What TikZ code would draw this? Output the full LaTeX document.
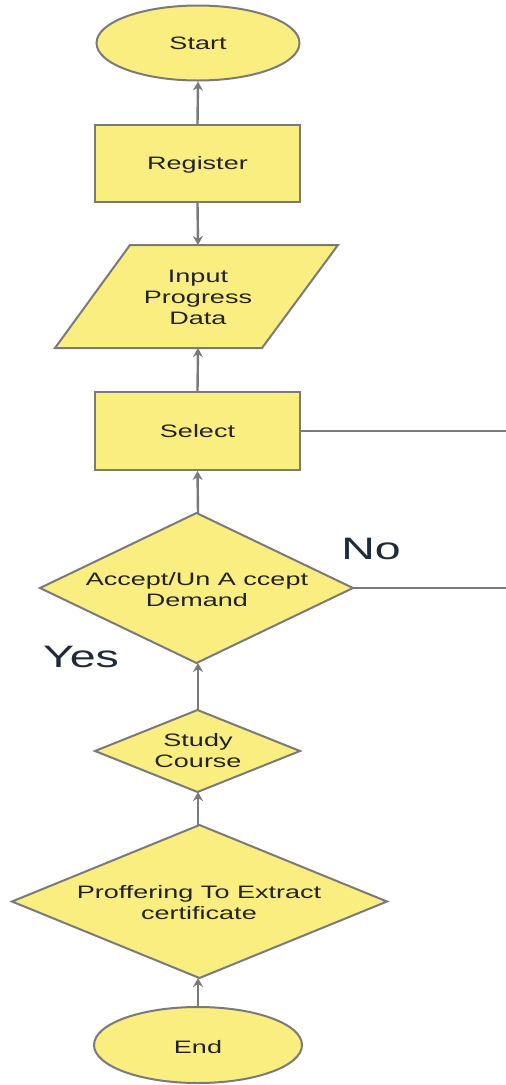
\documentclass[tikz,border=0pt]{standalone}
\usepackage{fontspec}
\setmainfont{Liberation Sans}[FakeStretch=1.5]
\usetikzlibrary{arrows.meta,shapes.geometric}
\definecolor{boxfill}{HTML}{FAEE80}
\definecolor{boxline}{HTML}{7A7A7A}
\definecolor{txt}{HTML}{222222}
\definecolor{lbl}{HTML}{1E2A3A}
\tikzset{
  shapebox/.style={draw=boxline, fill=boxfill, line width=2pt},
  txtnode/.style={text=txt, align=center, inner sep=0pt, font=\fontsize{18}{21}\selectfont},
  conn/.style={draw=boxline, line width=2.4pt, -{Stealth[length=9pt,width=10pt]}},
  plain/.style={draw=boxline, line width=2pt},
  bigl/.style={text=lbl, inner sep=0pt, font=\fontsize{31}{34}\selectfont}
}
\begin{document}
\begin{tikzpicture}[x=1pt,y=-1pt]
\useasboundingbox (0,0) rectangle (506,1085);
% Start
\node[shapebox, ellipse, minimum width=203pt, minimum height=75pt, inner sep=0pt] (start) at (198,43) {};
\node[txtnode] (starttxt) at (198,43) {Start};
% Register
\node[shapebox, rectangle, minimum width=205pt, minimum height=77pt, inner sep=0pt] (reg) at (197.5,163.5) {};
\node[txtnode] (regtxt) at (197.5,165) {Register};
% Input parallelogram
\draw[shapebox] (130,245) -- (338,245) -- (262,348) -- (55,348) -- cycle;
\coordinate (inptop) at (198,245);
\coordinate (inpbot) at (198,348);
\node[txtnode] (inp) at (198,297) {Input\\Progress\\Data};
% Select
\node[shapebox, rectangle, minimum width=205pt, minimum height=78pt, inner sep=0pt] (sel) at (197.5,431) {};
\node[txtnode] (seltxt) at (197.5,431) {Select};
\coordinate (selright) at (300,431);
\coordinate (selend) at (506,431);
% Accept diamond
\draw[shapebox] (196.5,513) -- (353,588) -- (196.5,663) -- (40,588) -- cycle;
\coordinate (acctop) at (198,513);
\coordinate (accbot) at (198,663);
\coordinate (accright) at (353,588);
\coordinate (accend) at (506,588);
\node[txtnode] (acc) at (197,590) {Accept/Un A ccept\\Demand};
% Study diamond
\draw[shapebox] (197.5,710) -- (300,751) -- (197.5,792) -- (95,751) -- cycle;
\coordinate (studytop) at (198,710);
\coordinate (studybot) at (198,792);
\node[txtnode] (study) at (198,751) {Study\\Course};
% Proffering diamond
\draw[shapebox] (199.5,825) -- (387,901.5) -- (199.5,978) -- (12,901.5) -- cycle;
\coordinate (proftop) at (198,825);
\coordinate (profbot) at (198,978);
\node[txtnode] (prof) at (199,903) {Proffering To Extract\\certificate};
% End
\node[shapebox, ellipse, minimum width=208pt, minimum height=76pt, inner sep=0pt] (endn) at (198,1045) {};
\node[txtnode] (endtxt) at (198,1047) {End};
% connectors
\draw[conn] (reg.north) -- (start.south);
\draw[conn] (reg.south) -- (inptop);
\draw[conn] (sel.north) -- (inpbot);
\draw[conn] (acctop) -- (sel.south);
\draw[conn] (studytop) -- (accbot);
\draw[conn] (proftop) -- (studybot);
\draw[conn] (endn.north) -- (profbot);
\draw[plain] (selright) -- (selend);
\draw[plain] (accright) -- (accend);
% labels
\node[bigl] (nolbl) at (371,549) {No};
\node[bigl] (yeslbl) at (81,657) {Yes};
\end{tikzpicture}
\end{document}
